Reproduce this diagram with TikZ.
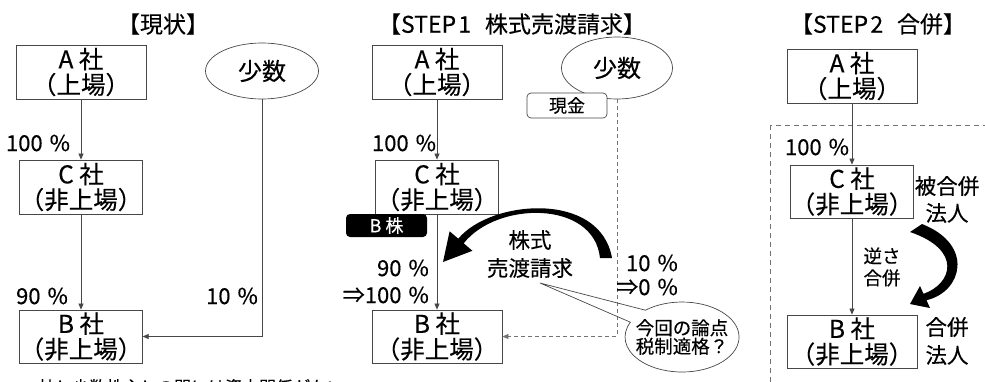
\documentclass[tikz,border=0pt]{standalone}
\usepackage{fontspec}
\setmainfont{Noto Sans CJK JP}[FakeBold=0.3]
\usetikzlibrary{shapes.geometric,arrows.meta}
\definecolor{ln}{gray}{0.28}
\definecolor{dl}{gray}{0.45}
\newcommand{\pc}{\hspace{0.32em}\%}
\tikzset{
  box/.style={draw=ln, line width=0.8pt, fill=white, align=center, inner sep=0pt,
    font=\fontsize{24.5}{25.5}\selectfont},
  ell/.style={ellipse, draw=ln, line width=0.7pt, fill=white, inner sep=0pt,
    minimum width=113pt, minimum height=56pt, font=\fontsize{24}{26}\selectfont},
  conn/.style={draw=ln, line width=0.7pt, -{Triangle[length=6pt,width=5pt]}},
  dconn/.style={draw=dl, line width=0.7pt, dash pattern=on 4pt off 3pt, -{Triangle[length=6pt,width=5pt]}},
  lab/.style={inner sep=0pt, font=\fontsize{22}{24}\selectfont},
  ttl/.style={inner sep=0pt, font=\fontsize{23}{26}\selectfont},
  tag/.style={draw=ln, line width=0.7pt, fill=white, rounded corners=4pt, inner sep=0pt,
    minimum width=80pt, minimum height=25pt, font=\fontsize{18}{18}\selectfont},
  btag/.style={fill=black, text=white, rounded corners=4pt, inner sep=0pt,
    minimum width=81pt, minimum height=23pt, font=\fontsize{18}{18}\selectfont},
  heavy/.style={fill=black, draw=none}
}
\begin{document}
\begin{tikzpicture}[x=1pt,y=-1pt]
\useasboundingbox (0,0) rectangle (985,381);
\clip (0,0) rectangle (985,381);

% ---------------- Panel 1 ----------------
\node[ttl] (t1) at (163,24) {【現状】};
\node[box, minimum width=130pt, minimum height=54pt] (A1) at (81,72) {A 社\\（上場）};
\node[box, minimum width=118pt, minimum height=54pt] (C1) at (81,187) {C 社\\（非上場）};
\node[box, minimum width=112pt, minimum height=53pt] (B1) at (81,336.5) {B 社\\（非上場）};
\node[ell] (S1) at (262,71) {少数};
\draw[conn] (A1) -- (C1);
\draw[conn] (C1) -- (B1);
\draw[conn] (S1.south) |- (B1.east);
\node[lab] (p1) at (38,143) {100\pc};
\node[lab] (p2) at (42,296) {90\pc};
\node[lab] (p3) at (232,296) {10\pc};

% ---------------- Panel 2 ----------------
\node[ttl] (t2) at (512,24) {【STEP\hspace{0.1em}1\hspace{0.6em}株式売渡請求】};
\node[box, minimum width=130pt, minimum height=54pt] (A2) at (437,72) {A 社\\（上場）};
\node[box, minimum width=118pt, minimum height=54pt] (C2) at (437,187) {C 社\\（非上場）};
\node[box, minimum width=130pt, minimum height=53pt] (B2) at (437,336.5) {B 社\\（非上場）};
\node[ell, minimum width=111pt, minimum height=62pt] (S2) at (617,68) {少数};
\draw[conn] (A2) -- (C2);
\draw[conn] (C2) -- (B2);
\draw[dconn] (S2.south) |- (B2.east);
\node[tag] (cash) at (567,105.5) {現金};
\node[btag] (bk) at (386.5,225.5) {B 株};
\node[lab] (p6) at (404,143) {100\pc};
\node[lab, anchor=east] (p4) at (429,268) {90\pc};
\node[lab, anchor=east] (p5) at (429,295) {⇒100\pc};
\node[lab, anchor=east] (p7) at (678,263) {10\pc};
\node[lab, anchor=east] (p8) at (678,287) {⇒0\pc};
\node[lab, align=center, font=\fontsize{21.5}{28}\selectfont] (sr) at (530,254) {株式\\売渡請求};
% heavy curved arrow
\fill[heavy] (458.3,238.7) .. controls (490,200) and (600,190) .. (612,258)
  -- (600,258) .. controls (594,200) and (497,201) .. (463.7,243.3)
  -- (472.4,250.8) -- (443,262) -- (449.6,231.3) -- cycle;
% callout
\coordinate (tip) at (540,283);
\draw[ln, line width=0.7pt] (tip) -- (645.4,310.2)
  arc[start angle=-130, end angle=205, x radius=57, y radius=35] -- (tip);
\node[inner sep=0pt, align=center, font=\fontsize{18.5}{18.5}\selectfont] (call) at (682,337) {今回の論点\\税制適格？};

% ---------------- Panel 3 ----------------
\draw[dl, line width=0.7pt, dash pattern=on 5pt off 4pt] (770,125) rectangle (1000,400);
\node[ttl] (t3) at (878,24) {【STEP\hspace{0.1em}2\hspace{0.6em}合併】};
\node[box, minimum width=130pt, minimum height=54pt] (A3) at (852,76) {A 社\\（上場）};
\node[box, minimum width=118pt, minimum height=53pt] (C3) at (852,191.5) {C 社\\（非上場）};
\node[box, minimum width=130pt, minimum height=53pt] (B3) at (852,341.5) {B 社\\（非上場）};
\draw[conn] (A3) -- (C3);
\draw[conn] (C3) -- (B3);
\node[lab] (p9) at (817,147) {100\pc};
\node[lab, align=center, font=\fontsize{21.5}{27}\selectfont] (hg) at (947,199.5) {被合併\\法人};
\node[lab, align=center, font=\fontsize{18.5}{22}\selectfont] (gs) at (882,267) {逆さ\\合併};
\node[lab, align=center, font=\fontsize{21.5}{28}\selectfont] (gh) at (947,341) {合併\\法人};
\fill[heavy] (922,224) .. controls (975,245) and (962,292) .. (926.5,300.2)
  -- (930,308) -- (910,304) -- (920,286) -- (923.5,293.8)
  .. controls (952,284) and (963,250) .. (910,232) -- cycle;

% cut-off note at the bottom
\node[anchor=base west, inner sep=0pt, font=\fontsize{17}{20}\selectfont] (note) at (38,393.5) {社と少数株主との間には資本関係がない};
\end{tikzpicture}
\end{document}
